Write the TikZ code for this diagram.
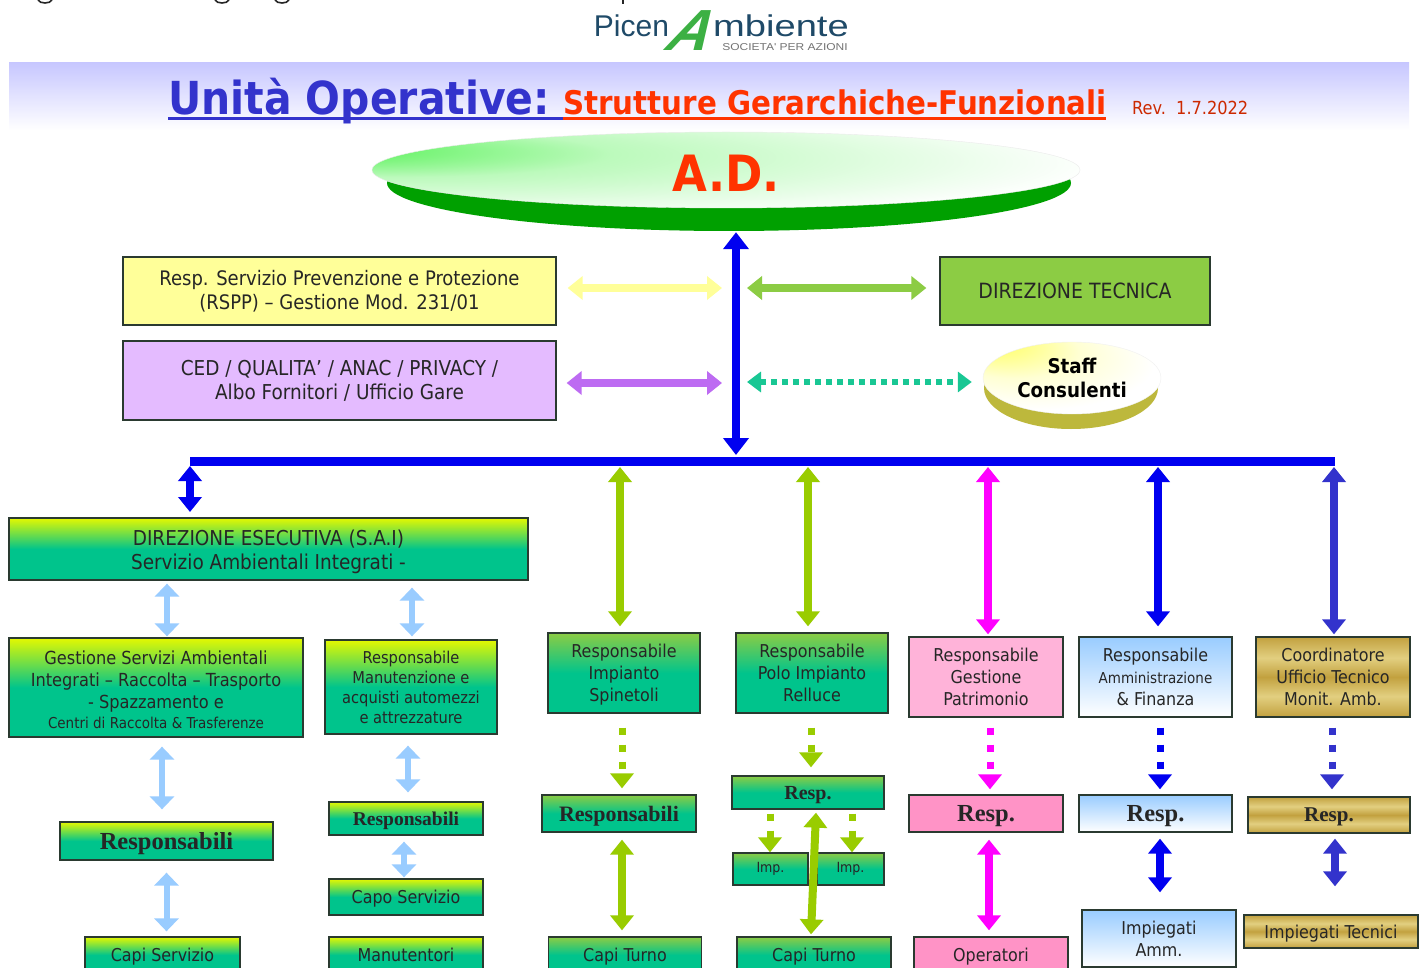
\documentclass[tikz,border=0pt]{standalone}
\usepackage{fontspec}
\setmainfont{DejaVu Sans Condensed}
\newfontfamily\boldserif{Liberation Serif}
\newfontfamily\logofont{Liberation Sans}
\usepackage{xcolor}
\usepackage{graphicx}
\usepackage{tikz}
\usetikzlibrary{shapes,arrows}
\usetikzlibrary{arrows.meta}
\definecolor{dkline}{HTML}{2A3A30}
\definecolor{limetop}{HTML}{E4F800}
\definecolor{tealmid}{HTML}{00C48C}
\definecolor{leaf}{HTML}{99CC00}
\definecolor{skyline}{HTML}{99CCFF}
\definecolor{indigo}{HTML}{3333CC}
\definecolor{titlered}{HTML}{FF3300}
\definecolor{grass}{HTML}{8CCC44}
\definecolor{pure}{HTML}{0000F0}
\definecolor{fuchsia}{HTML}{FF00FF}
\definecolor{paleyellow}{HTML}{FFFF99}
\definecolor{lilac}{HTML}{E4BBFF}
\definecolor{orchid}{HTML}{BD6BF2}
\definecolor{jade}{HTML}{19C794}
\definecolor{softpink}{HTML}{FFB3D9}
\definecolor{hotpink}{HTML}{FF93C6}
\definecolor{golda}{HTML}{C2A13F}
\definecolor{goldb}{HTML}{E2CF80}
\definecolor{adgreen}{HTML}{00A000}
\definecolor{brightgreen}{HTML}{40F040}
\definecolor{olive}{HTML}{BDB83C}
\definecolor{sunny}{HTML}{FFFF50}
\definecolor{logoblue}{HTML}{1F4A68}
\definecolor{logogreen}{HTML}{3CB043}
\pgfdeclareverticalshading{goldband}{100bp}{color(0bp)=(golda);color(25bp)=(golda);color(38bp)=(goldb);color(50bp)=(golda);color(62bp)=(goldb);color(75bp)=(golda);color(100bp)=(golda)}
\pgfdeclareradialshading{adglow}{\pgfpoint{-33bp}{15bp}}{color(0bp)=(brightgreen);color(15bp)=(brightgreen!35!white);color(36bp)=(white);color(50bp)=(white)}
\pgfdeclareradialshading{staffglow}{\pgfpoint{-25bp}{28bp}}{color(0bp)=(sunny);color(18bp)=(sunny!25!white);color(32bp)=(white);color(50bp)=(white)}
\tikzstyle{block} = [rectangle, draw=dkline, line width=1.3pt, text=black!85, align=center,
    inner sep=0pt, font=\fontsize{17.7}{22}\selectfont]
\tikzstyle{oneline} = [text height=13pt, text depth=0pt]
\tikzstyle{greenblock} = [block, top color=limetop, bottom color=tealmid, middle color=tealmid]
\tikzstyle{tealblock} = [block, top color=grass, bottom color=tealmid, middle color=tealmid]
\tikzstyle{skyblock} = [block, top color=skyline, bottom color=white]
\tikzstyle{goldblock} = [block, shading=goldband]
\tikzstyle{heavy} = [text depth=0pt, font=\boldserif\bfseries\fontsize{24.5}{26}\selectfont]
\tikzstyle{line} = [draw, line width=8pt, {Triangle[width=23pt,length=15pt]}-{Triangle[width=23pt,length=15pt]}]
\tikzstyle{softline} = [draw, line width=6pt, skyline, {Triangle[width=24pt,length=13pt]}-{Triangle[width=24pt,length=13pt]}]
\tikzstyle{dashline} = [draw, line width=7pt, dash pattern=on 7pt off 10pt, -{Triangle[width=23pt,length=15pt]}]
\begin{document}
\begin{tikzpicture}[x=1pt, y=-1pt]
  \clip (0,0) rectangle (1422,968);
  \fill [white] (0,0) rectangle (1422,968);
  % Cut-off line at the top edge
  \foreach \gx in {45,222,282}
    \draw [black!85, line width=1.6pt] (\gx-7,0) .. controls (\gx-5,4) and (\gx+5,4) .. (\gx+7,0);
  \draw [black!85, line width=2.5pt] (623,0) -- (623,4);
  % Logo
  \node [text=logoblue, font=\logofont\fontsize{30}{30}\selectfont, inner sep=0pt] (picen) at (631.5,26) {Picen};
  \node [text=logoblue, font=\logofont\fontsize{30}{30}\selectfont, inner sep=0pt] (mbiente) at (781,26) {\scalebox{1.27}[1]{mbiente}};
  \node [text=logogreen, font=\logofont\bfseries\itshape\fontsize{58}{58}\selectfont, inner sep=0pt,
         xslant=0.4, transform shape] (logoa) at (693,31) {A};
  \node [text=black!55, font=\logofont\fontsize{10}{10}\selectfont, inner sep=0pt] (spa) at (785,47) {\scalebox{1.2}[1]{SOCIETA' PER AZIONI}};
  % Title
  \shade [top color=blue!22, bottom color=white] (9,63) rectangle (1409,130);
  \node [text=indigo, anchor=base west, inner sep=0pt, font=\bfseries\fontsize{45.5}{46}\selectfont] (unita) at (168,115) {Unità Operative:};
  \node [text=titlered, anchor=base west, inner sep=0pt, font=\bfseries\fontsize{32.6}{33}\selectfont] (strutture) at (563,115) {Strutture Gerarchiche-Funzionali};
  \node [text=titlered!80!black, anchor=base west, inner sep=0pt, font=\fontsize{18}{18}\selectfont] (rev) at (1132,115) {Rev.\ \ 1.7.2022};
  \draw [indigo, line width=3pt] (unita.base west |- 0,119) -- (strutture.base west |- 0,119);
  \draw [titlered, line width=3pt] (strutture.base west |- 0,119) -- (1106,119);
  % Place nodes
  \fill [adgreen] (729,183) ellipse [x radius=342, y radius=48];
  \node [ellipse, shading=adglow, draw=black!8, minimum width=708, minimum height=76, inner sep=0pt, text=titlered,
         text height=44pt, text depth=0pt, font=\bfseries\fontsize{50}{50}\selectfont] (ad) at (726,170) {A.D.};
  \fill [olive] (1071,388) ellipse [x radius=87, y radius=41];
  \node [ellipse, shading=staffglow, draw=black!6, minimum width=178, minimum height=72, inner sep=0pt, align=center,
         font=\bfseries\fontsize{20.3}{24}\selectfont] (staff) at (1072,378) {Staff\\Consulenti};
  \node [block, fill=paleyellow, minimum width=433, minimum height=68, font=\fontsize{20}{24}\selectfont] (rspp) at (339.5,291) {Resp. Servizio Prevenzione e Protezione\\(RSPP) -- Gestione Mod. 231/01};
  \node [block, fill=lilac, minimum width=433, minimum height=79, font=\fontsize{20.5}{24}\selectfont] (ced) at (339.5,380.5) {CED / QUALITA' / ANAC / PRIVACY /\\Albo Fornitori / Ufficio Gare};
  \node [block, fill=grass, text height=15.3pt, text depth=0pt, minimum width=270, minimum height=68, font=\fontsize{21}{24}\selectfont] (dirtec) at (1075,291) {DIREZIONE TECNICA};
  \node [greenblock, minimum width=519, minimum height=62, font=\fontsize{20.5}{24}\selectfont] (sai) at (268.5,549) {\rule{0pt}{22pt}DIREZIONE ESECUTIVA (S.A.I)\\Servizio Ambientali Integrati -};
  \node [greenblock, minimum width=294, minimum height=99, font=\fontsize{18}{22}\selectfont] (gest) at (156,687.5) {\rule{0pt}{18pt}Gestione Servizi Ambientali\\Integrati -- Raccolta -- Trasporto\\- Spazzamento e\\[-2pt]{\fontsize{15}{20}\selectfont Centri di Raccolta \& Trasferenze}};
  \node [greenblock, minimum width=172, minimum height=94, font=\fontsize{16.3}{20}\selectfont] (manut) at (411,687) {Responsabile\\Manutenzione e\\acquisti automezzi\\e attrezzature};
  \node [greenblock, heavy, minimum width=213, minimum height=38] (respl) at (166.5,841) {Responsabili};
  \node [greenblock, oneline, minimum width=155, minimum height=36] (capil) at (162.5,955) {Capi Servizio};
  \node [greenblock, heavy, minimum width=154, minimum height=33, font=\boldserif\bfseries\fontsize{19.5}{24}\selectfont] (respm) at (406,818.5) {Responsabili};
  \node [greenblock, oneline, minimum width=154, minimum height=36] (capo) at (406,897) {Capo Servizio};
  \node [greenblock, oneline, minimum width=154, minimum height=36] (manutori) at (406,955) {Manutentori};
  \node [tealblock, minimum width=152, minimum height=80] (spin) at (624,673) {\rule{0pt}{17.5pt}Responsabile\\Impianto\\Spinetoli};
  \node [tealblock, heavy, minimum width=154, minimum height=37, font=\boldserif\bfseries\fontsize{22}{24}\selectfont] (resps) at (619,813.5) {Responsabili};
  \node [tealblock, oneline, minimum width=153, minimum height=36] (turnoa) at (625,955) {Capi Turno};
  \node [tealblock, minimum width=152, minimum height=80] (rell) at (812,673) {Responsabile\\Polo Impianto\\Relluce};
  \node [tealblock, heavy, minimum width=152, minimum height=33, font=\boldserif\bfseries\fontsize{20}{24}\selectfont] (respr) at (808,792.5) {Resp.};
  \node [tealblock, minimum width=75, minimum height=32, font=\fontsize{14}{18}\selectfont] (impa) at (770.5,869) {Imp.};
  \node [tealblock, minimum width=67, minimum height=32, font=\fontsize{14}{18}\selectfont] (impb) at (850.5,869) {Imp.};
  \node [tealblock, oneline, minimum width=154, minimum height=36] (turnob) at (814,955) {Capi Turno};
  \node [block, fill=softpink, minimum width=154, minimum height=80] (patr) at (986,677) {Responsabile\\Gestione\\Patrimonio};
  \node [block, heavy, fill=hotpink, minimum width=154, minimum height=37] (respp) at (986,813.5) {Resp.};
  \node [block, oneline, fill=hotpink, minimum width=154, minimum height=36] (oper) at (991,955) {Operatori};
  \node [skyblock, minimum width=153, minimum height=80] (amm) at (1155.5,677) {Responsabile\\{\fontsize{15}{20}\selectfont Amministrazione}\\\& Finanza};
  \node [skyblock, heavy, minimum width=153, minimum height=37] (respa) at (1155.5,813.5) {Resp.};
  \node [skyblock, minimum width=154, minimum height=57] (impam) at (1159,938.5) {Impiegati\\Amm.};
  \node [goldblock, minimum width=154, minimum height=80] (coord) at (1333,677) {Coordinatore\\Ufficio Tecnico\\Monit. Amb.};
  \node [goldblock, heavy, minimum width=162, minimum height=36, font=\boldserif\bfseries\fontsize{21}{24}\selectfont] (respc) at (1329,815) {Resp.};
  \node [goldblock, oneline, minimum width=174, minimum height=33] (impt) at (1331,931.5) {Impiegati Tecnici};
  % Junctions on the bars
  \coordinate (trunk) at (736,455);
  \coordinate (barl) at (190,461);
  \coordinate (barr) at (1335,461);
  \coordinate (saitop) at (190,512);
  \coordinate (mida) at (737,288);
  \coordinate (midb) at (737,383);
  % Draw edges
  \draw [pure, line width=9pt] (barl) -- (barr);
  \path [line, pure, {Triangle[width=25pt,length=17pt]}-{Triangle[width=25pt,length=17pt]}] (ad.south -| trunk) ++(0,24) -- (trunk);
  \path [line, pure] (barl) ++(0,5) -- (saitop);
  \path [line, paleyellow] (rspp.east) ++(11,-3) -- ([xshift=-15]mida);
  \path [line, grass] ([xshift=10]mida) -- ([yshift=3,xshift=-13]dirtec.west);
  \path [line, orchid] (ced.east |- midb) ++(10,0) -- ([xshift=-15]midb);
  \draw [line width=6pt, dash pattern=on 6pt off 5pt, jade, {Triangle[width=20pt,length=14pt]}-{Triangle[width=20pt,length=14pt]}] ([xshift=10,yshift=1]midb) -- ([xshift=-11,yshift=-4]staff.west);
  % Branches
  \path [line, leaf] (620,467) -- ([xshift=-4,yshift=6]spin.north);
  \path [line, leaf] (808,467) -- ([xshift=-4,yshift=6]rell.north);
  \path [line, fuchsia] (988,467) -- ([xshift=2,yshift=2]patr.north);
  \path [line, pure] (1158,467) -- ([xshift=2.5,yshift=10]amm.north);
  \path [line, indigo] (1334,467) -- ([xshift=1,yshift=2]coord.north);
  \path [softline] ([xshift=-101.5,yshift=-3]sai.south) -- ([xshift=11,yshift=1]gest.north);
  \path [softline] ([xshift=143.5,yshift=-7]sai.south) -- ([xshift=1,yshift=3]manut.north);
  \path [softline] ([xshift=6,yshift=-9]gest.south) -- ([xshift=-4.5,yshift=12]respl.north);
  \path [softline] ([xshift=-3,yshift=-11]manut.south) -- ([xshift=2,yshift=9]respm.north);
  \path [softline] ([yshift=-12]respl.south) -- ([xshift=4,yshift=5]capil.north);
  \path [softline] ([xshift=-2,yshift=-6]respm.south) -- ([xshift=-2,yshift=1]capo.north);
  \path [dashline, leaf] ([xshift=-2,yshift=-14]spin.south) -- ([xshift=3,yshift=6]resps.north);
  \path [dashline, leaf] ([xshift=-1,yshift=-14]rell.south) -- ([xshift=3,yshift=8]respr.north);
  \path [dashline, fuchsia] ([xshift=4,yshift=-10]patr.south) -- ([xshift=4,yshift=5]respp.north);
  \path [dashline, pure] ([xshift=4.5,yshift=-10]amm.south) -- ([xshift=4.5,yshift=5]respa.north);
  \path [dashline, indigo] ([xshift=-1,yshift=-10]coord.south) -- ([xshift=3,yshift=7]respc.north);
  \path [dashline, leaf] ([xshift=-38,yshift=-4]respr.south) -- ([xshift=-.5]impa.north);
  \path [dashline, leaf] ([xshift=44,yshift=-4]respr.south) -- ([xshift=1.5]impb.north);
  \path [line, leaf] ([xshift=3,yshift=-7]resps.south) -- ([xshift=-3,yshift=6]turnoa.north);
  \path [line, leaf] ([xshift=8,yshift=-3]respr.south) -- ([xshift=-3,yshift=2]turnob.north);
  \path [line, fuchsia] ([xshift=3,yshift=-7]respp.south) -- ([xshift=-2,yshift=6]oper.north);
  \path [line, pure] ([xshift=4.5,yshift=-6]respa.south) -- ([xshift=1,yshift=17]impam.north);
  \path [line, indigo] ([xshift=6,yshift=-5]respc.south) -- ([xshift=4,yshift=28]impt.north);
\end{tikzpicture}
\end{document}
